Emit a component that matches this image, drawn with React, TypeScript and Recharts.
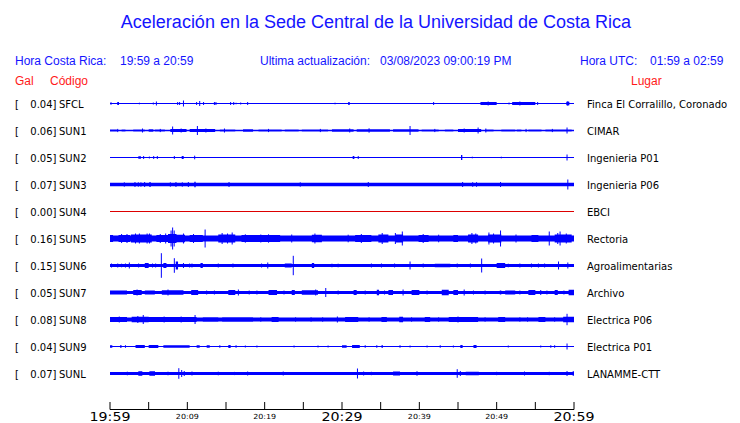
import { ComposedChart, Area, Scatter, ErrorBar, XAxis, YAxis } from 'recharts'

// station rows, top to bottom
const CODES = ['SFCL', 'SUN1', 'SUN2', 'SUN3', 'SUN4', 'SUN5', 'SUN6', 'SUN7', 'SUN8', 'SUN9', 'SUNL']
const GALS = ['0.04', '0.06', '0.05', '0.07', '0.00', '0.16', '0.15', '0.05', '0.08', '0.04', '0.07']
const PLACES = [
  'Finca El Corralillo, Coronado',
  'CIMAR',
  'Ingenieria P01',
  'Ingenieria P06',
  'EBCI',
  'Rectoria',
  'Agroalimentarias',
  'Archivo',
  'Electrica P06',
  'Electrica P01',
  'LANAMME-CTT',
]

// x axis: minutes after 19:59
const TICK_MINUTES = [0, 5, 10, 15, 20, 25, 30, 35, 40, 45, 50, 55, 60]
const TICK_LABELS = ['19:59', '', '20:09', '', '20:19', '', '20:29', '', '20:39', '', '20:49', '', '20:59']
const MAJOR_LABELS = ['19:59', '20:29', '20:59']

// y units: one row = 27
const TRACE_GAP = 27
const Y_MAX = 333

// resting half-thickness of every trace
const BASES = [0.5, 0.65, 0.5, 1.8, 0.5, 3.1, 1.5, 1.5, 2.0, 0.5, 1.5]

// sustained bursts: [from min, to min, half amplitude]
const BURSTS_SFCL = [[30.8, 31.0, 1.5], [47.9, 50.0, 1.5], [52.0, 55.0, 1.5], [59.0, 59.4, 1.8]]
const BURSTS_SUN1 = [
  [0, 0.9, 1.1], [1.5, 2.0, 1], [3.0, 4.5, 1.1], [5.0, 5.6, 1.2], [5.8, 7.1, 1.1], [7.8, 9.9, 1.4],
  [10.3, 13.6, 1.4], [14.2, 16.2, 1.1], [17.2, 18.5, 1.2], [19.2, 22.2, 1.1], [22.6, 24.4, 1.1],
  [24.8, 28.2, 0.9], [28.7, 31.5, 1.2], [31.9, 36.2, 1.2], [36.6, 39.9, 1.2], [40.3, 42.5, 1.1],
  [43.3, 44.4, 1.1], [45.0, 48.0, 1.4], [48.5, 49.6, 1.1], [50.6, 52.4, 1.1], [52.6, 53.2, 0.9],
  [54.1, 55.8, 1.1], [56.3, 59.7, 1],
]
const BURSTS_SUN2 = [[3.66, 4.0, 1.2], [9.27, 9.53, 1.5], [31.38, 31.6, 1.5], [45.39, 45.56, 2.5]]
const BURSTS_SUN3 = [[5.09, 5.26, 2.5], [10.9, 11.08, 2.7]]
const BURSTS_SUN4: number[][] = []
const BURSTS_SUN5 = [
  [0, 0.4, 3.6], [1.1, 2.6, 3.6], [2.7, 5.4, 4], [6.0, 7.5, 3.6], [7.5, 8.6, 4.6], [8.6, 9.7, 3.8],
  [10.3, 12.0, 3.5], [14.0, 16.2, 4], [17.0, 22.0, 3.4], [26.1, 27.4, 3.8], [31.7, 33.8, 3.6],
  [34.7, 36.0, 4], [36.9, 37.9, 4], [39.9, 41.2, 3.6], [44.4, 45.0, 3.5], [46.3, 47.6, 4],
  [48.9, 50.6, 3.9], [54.5, 55.4, 3.4], [57.5, 59.7, 4],
]
const BURSTS_SUN6 = [
  [4.5, 5.0, 2.5], [6.9, 7.3, 2.5], [8.5, 8.8, 4], [11.7, 12.0, 2.5], [22.6, 23.5, 2],
  [26.1, 26.4, 2.5], [42.0, 44.0, 1.8], [50.0, 51.1, 2.5],
]
const BURSTS_SUN7 = [
  [0, 2.2, 2], [3.0, 4.1, 2.4], [4.5, 5.8, 2], [6.7, 9.5, 2.3], [10.5, 11.4, 2.4], [15.3, 16.2, 2.4],
  [20.5, 21.6, 2.4], [23.5, 23.9, 2.4], [24.8, 26.9, 2.3], [31.5, 31.9, 2.4], [34.5, 34.8, 2.8],
  [36.0, 36.6, 2.4], [39.0, 40.0, 2.4], [42.9, 43.8, 2.8], [44.4, 45.0, 2.4], [50.4, 50.6, 2],
  [51.1, 52.4, 2], [54.1, 55.0, 2.4], [57.5, 57.9, 2.4], [59.3, 60, 2.8],
]
const BURSTS_SUN8 = [
  [0, 2.2, 2.5], [2.8, 5.0, 2.8], [5.0, 11.2, 2.5], [12.0, 14.0, 2.3], [14.5, 18.5, 2.3],
  [20.9, 21.8, 2.5], [30.4, 32.1, 2.5], [35.1, 35.8, 2.5], [37.4, 37.9, 2.8], [40.7, 41.4, 2.5],
  [43.8, 47.6, 2.4], [50.2, 51.1, 2.5], [55.4, 56.3, 2.5], [58.6, 60, 2.8],
]
const BURSTS_SUN9 = [
  [0, 0.3, 1.3], [1.3, 1.5, 1.3], [3.3, 4.5, 1.4], [5.0, 6.25, 1.4], [6.9, 10.3, 1.2], [11.2, 11.6, 1.3],
  [12.5, 12.9, 1.3], [15.3, 15.6, 1.5], [30.0, 30.6, 1.3], [31.3, 32.3, 1.5], [35.1, 35.3, 1.3],
  [45.3, 45.6, 1.5], [47.0, 47.4, 1.5],
]
const BURSTS_SUNL = [[3.66, 4.18, 2.3], [5.09, 5.82, 2.3], [36.6, 37.5, 2], [46.0, 47.7, 1.8]]

// single spikes: [min, half amplitude]
const SPIKES_SFCL = [
  [0.13, 1.3], [1.0, 1.5], [1.1, 1.5], [3.8, 0.8], [5.6, 1], [6.0, 2], [8.75, 1.5], [9.0, 1.5],
  [9.5, 3], [11.2, 1.5], [11.6, 2.5], [12.1, 1.5], [13.5, 1.5], [13.7, 1.5], [15.6, 1.5], [16.0, 1.5],
  [16.3, 0.8], [16.9, 1], [17.8, 1.5], [29.1, 0.8], [41.85, 1.5], [48.9, 2], [51.6, 1], [53.0, 2],
  [55.3, 1.5], [59.2, 2.3],
]
const SPIKES_SUN1 = [
  [1.0, 1.6], [4.2, 2], [6.5, 1.6], [8.1, 4], [9.2, 2], [11.3, 4.5], [12.4, 2], [14.8, 2], [20.5, 1.6],
  [27.2, 1.6], [31.0, 2], [33.5, 2.2], [38.8, 4.5], [42.0, 1.6], [45.8, 2], [47.6, 3], [48.6, 2],
  [53.8, 1.6], [57.2, 1.6], [59.1, 3],
]
const SPIKES_SUN2 = [
  [4.35, 1.5], [5.09, 1], [5.65, 1.5], [6.12, 1.5], [8.32, 1.5], [10.95, 1.8], [32.1, 1.5],
  [46.85, 0.8], [50.6, 0.8], [59.1, 3],
]
const SPIKES_SUN3 = [
  [1.85, 2.2], [3.23, 2.5], [3.66, 2.2], [4.0, 2.2], [4.48, 2.5], [7.8, 2.2], [8.53, 2.5], [9.35, 2.2],
  [10.13, 2.5], [15.39, 2.5], [24.6, 2.2], [33.4, 2.5], [45.6, 2.5], [46.9, 2.3], [47.4, 2.3],
  [50.5, 2.5], [59.2, 5],
]
const SPIKES_SUN4: number[][] = []
const SPIKES_SUN5 = [
  [1.5, 4.5], [2.2, 4.5], [3.3, 5], [3.8, 5], [4.8, 5], [5.1, 5], [6.5, 4.5], [7.2, 5], [7.9, 8],
  [8.1, 11], [8.3, 8], [9.5, 5], [10.8, 4.5], [12.3, 9], [14.5, 5.5], [15.2, 5], [15.8, 6],
  [17.5, 4.2], [19.5, 4], [20.5, 4.2], [23.5, 4], [26.5, 5], [30.8, 3.8], [32.5, 4.5], [35.2, 5.5],
  [36.9, 5.5], [37.8, 7], [40.5, 4.5], [42.5, 3.8], [46.8, 5.5], [47.3, 5], [49.0, 6], [49.6, 5],
  [50.5, 8], [52.5, 4], [56.8, 7], [57.9, 5.5], [58.2, 7], [59.0, 5],
]
const SPIKES_SUN6 = [
  [0.2, 2], [1.0, 2], [1.5, 1.8], [2.0, 2], [2.5, 3], [3.7, 2], [5.5, 2], [5.9, 2], [6.64, 12.3],
  [8.32, 7.3], [9.5, 2.5], [10.3, 2], [10.6, 2], [14.0, 2], [15.9, 2], [19.6, 2], [20.4, 3],
  [23.7, 9.7], [28.7, 1.8], [29.5, 1.8], [33.8, 2], [35.1, 2], [36.8, 2], [38.8, 4], [40.5, 2],
  [44.9, 2], [46.6, 2], [48.06, 7], [51.5, 1.8], [53.0, 2], [54.5, 2], [55.4, 2], [56.2, 2],
  [58.0, 4], [59.2, 3],
]
const SPIKES_SUN7 = [
  [3.5, 3], [7.5, 3], [12.5, 2], [13.5, 2], [16.6, 3], [18.0, 2], [19.0, 2], [22.5, 2], [26.6, 3],
  [27.9, 4.5], [29.5, 2], [33.0, 2], [35.5, 2], [37.9, 3], [41.0, 2], [45.8, 3], [47.0, 2],
  [48.5, 2], [53.0, 2], [55.7, 2.5], [56.5, 2], [58.7, 2],
]
const SPIKES_SUN8 = [
  [1.2, 3], [3.6, 3.5], [4.3, 4.5], [7.0, 3], [9.2, 3], [11.0, 4.5], [19.5, 2.2], [24.0, 2.2],
  [26.0, 2.2], [27.5, 2.2], [29.4, 3], [33.5, 2.2], [39.0, 2.2], [42.5, 2.2], [45.0, 3],
  [48.5, 2.2], [53.0, 2.2], [54.0, 2.2], [57.5, 2.2], [59.1, 5.7],
]
const SPIKES_SUN9 = [
  [2.0, 1.3], [14.2, 1.3], [16.3, 1.3], [17.5, 1], [19.0, 1], [23.8, 1], [26.9, 1], [28.2, 1],
  [33.0, 1.3], [34.5, 1.3], [37.5, 1.3], [38.8, 1], [41.0, 1], [42.7, 1.3], [44.4, 1], [51.5, 1],
  [55.7, 1], [57.0, 1.3], [57.5, 1.3], [59.1, 3],
]
const SPIKES_SUNL = [
  [2.24, 1.8], [7.5, 1.8], [8.9, 5.3], [9.27, 3.5], [9.6, 2.5], [10.6, 2], [14.0, 1.8], [16.1, 1.6],
  [17.8, 2], [22.4, 2], [32.0, 5], [32.8, 2], [33.8, 1.7], [39.7, 2.3], [44.9, 4.3], [45.3, 2.5],
  [50.0, 1.7], [53.6, 2], [56.8, 1.7], [59.1, 2.5], [59.9, 2.5],
]

const BURSTS = [
  BURSTS_SFCL, BURSTS_SUN1, BURSTS_SUN2, BURSTS_SUN3, BURSTS_SUN4, BURSTS_SUN5,
  BURSTS_SUN6, BURSTS_SUN7, BURSTS_SUN8, BURSTS_SUN9, BURSTS_SUNL,
]
const SPIKES = [
  SPIKES_SFCL, SPIKES_SUN1, SPIKES_SUN2, SPIKES_SUN3, SPIKES_SUN4, SPIKES_SUN5,
  SPIKES_SUN6, SPIKES_SUN7, SPIKES_SUN8, SPIKES_SUN9, SPIKES_SUNL,
]

const BLUE = '#0000ff'
const TEXT_BLUE = '#1414ff'
const TEXT_RED = '#ff1a1a'
const DEAD = 'SUN4'

const centers = CODES.map((_, i) => (i + 1) * TRACE_GAP)

// envelope per station, as a range area
const traces = CODES.map((code, i) => {
  const c = centers[i]
  const b = BASES[i]
  const rest = [c - b, c + b]
  const band: { t: number; band: number[] }[] = [{ t: 0, band: rest }]
  BURSTS[i].forEach(([t0, t1, a]) => {
    band.push({ t: t0, band: rest }, { t: t0, band: [c - a, c + a] }, { t: t1, band: [c - a, c + a] }, { t: t1, band: rest })
  })
  band.push({ t: 60, band: rest })
  const spikes = SPIKES[i].map(([t, a]) => ({ t, y: c, e: a }))
  return { code, band, spikes, color: code === DEAD ? '#dd0000' : BLUE }
})

const rowOf = (v: number) => Math.round(v / TRACE_GAP) - 1

const LeftTick = ({ y, payload }: any) => {
  const i = rowOf(payload.value)
  return (
    <g fontFamily="'DejaVu Sans', sans-serif" fontSize={10} fill="#000">
      <text x={15} y={y + 4}>[</text>
      <text x={56.5} y={y + 4} textAnchor="end">{GALS[i]}]</text>
      <text x={59} y={y + 4}>{CODES[i]}</text>
    </g>
  )
}

const RightTick = ({ y, payload }: any) => {
  const i = rowOf(payload.value)
  return (
    <text x={587} y={y + 4} fontFamily="'DejaVu Sans', sans-serif" fontSize={10} fill="#000">
      {PLACES[i]}
    </text>
  )
}

const TimeTick = ({ x, y, payload }: any) => {
  const label = TICK_LABELS[TICK_MINUTES.indexOf(payload.value)]
  const major = MAJOR_LABELS.includes(label)
  return (
    <g>
      <line x1={x} x2={x} y1={y - 7.5} y2={y} stroke="#000" />
      {label && (
        <text
          x={x}
          y={y + (major ? 11.5 : 9)}
          textAnchor="middle"
          fontFamily="'DejaVu Sans', sans-serif"
          fontSize={major ? 12 : 7}
          textLength={major ? 41 : 23}
          lengthAdjust="spacingAndGlyphs"
          fill="#000"
        >
          {label}
        </text>
      )}
    </g>
  )
}

const EmptyShape = () => <g />

export default function App() {
  const headFont = "'Liberation Sans', Arial, sans-serif"
  return (
    <div style={{ position: 'relative', width: 740, height: 423, background: '#fff' }}>
      <style>{'body{margin:0}'}</style>
      <svg width={740} height={90} style={{ position: 'absolute', left: 0, top: 0 }} fontFamily={headFont}>
        <text x={376} y={28} textAnchor="middle" fontSize={18} fill={TEXT_BLUE}>
          Aceleración en la Sede Central de la Universidad de Costa Rica
        </text>
        <g fontSize={12} fill={TEXT_BLUE}>
          <text x={15} y={65}>Hora Costa Rica:</text>
          <text x={120} y={65}>19:59 a 20:59</text>
          <text x={260} y={65}>Ultima actualización:</text>
          <text x={380} y={65}>03/08/2023 09:00:19 PM</text>
          <text x={580} y={65}>Hora UTC:</text>
          <text x={650} y={65}>01:59 a 02:59</text>
        </g>
        <g fontSize={12} fill={TEXT_RED}>
          <text x={15} y={85}>Gal</text>
          <text x={50} y={85}>Código</text>
          <text x={631} y={85}>Lugar</text>
        </g>
      </svg>
      <div style={{ position: 'absolute', left: 0, top: 0 }}>
        <ComposedChart width={740} height={423} margin={{ top: 76.5, right: 0, bottom: 0, left: 0 }}>
          <XAxis
            dataKey="t"
            type="number"
            domain={[0, 60]}
            ticks={TICK_MINUTES}
            interval={0}
            tick={<TimeTick />}
            tickLine={false}
            tickSize={0}
            tickMargin={0}
            height={13.5}
            axisLine={{ stroke: '#000' }}
            allowDataOverflow
          />
          <YAxis
            yAxisId="left"
            type="number"
            domain={[0, Y_MAX]}
            reversed
            ticks={centers}
            interval={0}
            tick={<LeftTick />}
            width={110}
            axisLine={false}
            tickLine={false}
            allowDataOverflow
          />
          <YAxis
            yAxisId="right"
            orientation="right"
            type="number"
            domain={[0, Y_MAX]}
            reversed
            ticks={centers}
            interval={0}
            tick={<RightTick />}
            width={166}
            axisLine={false}
            tickLine={false}
            allowDataOverflow
          />
          {traces.map(tr => (
            <Area
              key={`band-${tr.code}`}
              yAxisId="left"
              data={tr.band}
              dataKey="band"
              type="linear"
              stroke="none"
              fill={tr.color}
              fillOpacity={1}
              dot={false}
              activeDot={false}
              isAnimationActive={false}
            />
          ))}
          {traces.map(tr =>
            tr.spikes.length ? (
              <Scatter
                key={`spk-${tr.code}`}
                yAxisId="right"
                data={tr.spikes}
                dataKey="y"
                shape={<EmptyShape />}
                isAnimationActive={false}
              >
                <ErrorBar dataKey="e" direction="y" width={0} stroke={tr.color} strokeWidth={1} isAnimationActive={false} />
              </Scatter>
            ) : null
          )}
        </ComposedChart>
      </div>
    </div>
  )
}
